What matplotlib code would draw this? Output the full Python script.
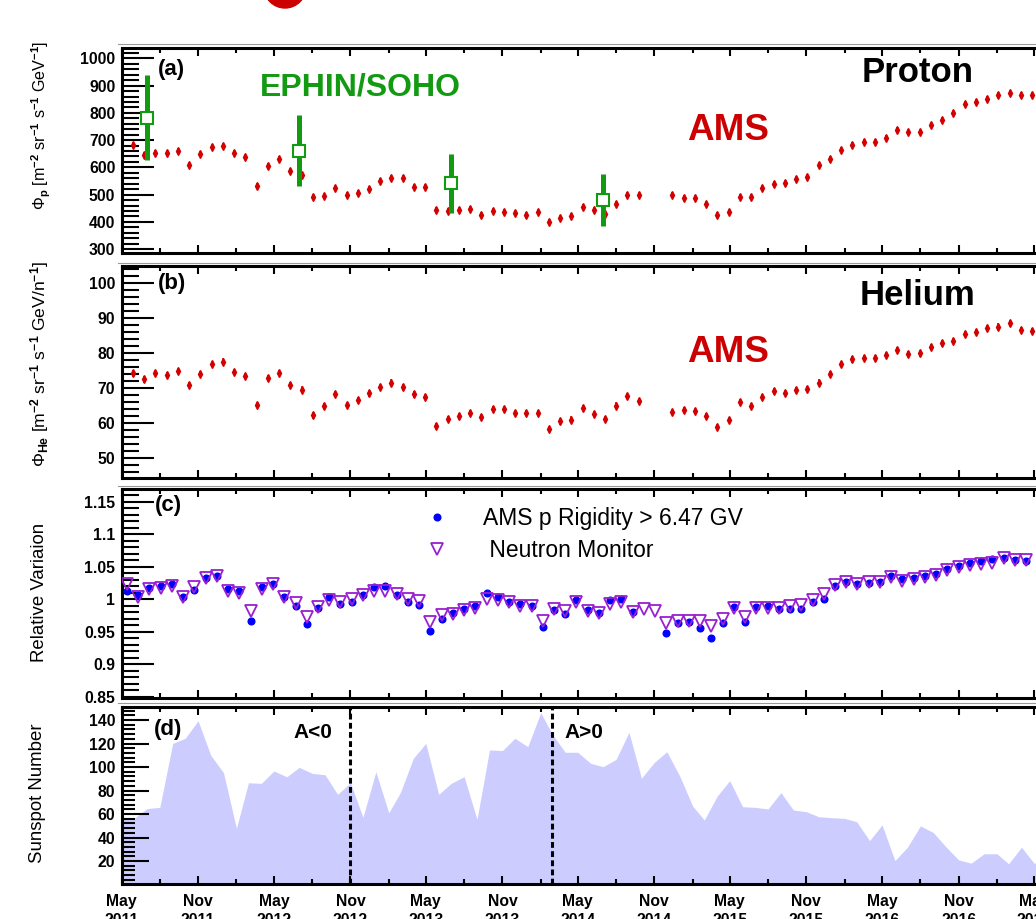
"""
AMS monthly fluxes vs. solar activity, four stacked panels:
 (a) proton flux, (b) helium flux, (c) relative variation vs neutron monitor,
 (d) monthly sunspot number.
"""
import matplotlib
matplotlib.use("Agg")
import matplotlib.pyplot as plt
import matplotlib.dates as mdates
from matplotlib.lines import Line2D
from matplotlib.patches import Ellipse
from matplotlib.ticker import MultipleLocator, FuncFormatter
import numpy as np
import pandas as pd

plt.rcParams.update({
    "font.family": "Liberation Sans",
    "font.weight": "bold",
    "mathtext.fontset": "custom",
    "mathtext.rm": "Liberation Sans",
    "mathtext.it": "Liberation Sans:italic",
    "mathtext.bf": "Liberation Sans:bold",
    "xtick.labelsize": 11.3,
    "ytick.labelsize": 11.3,
})

W, H = 1036, 919
nan = np.nan

# ── data ─────────────────────────────────────────────────────────────────────
# Bartels rotations (27 days each, rotation 1 began 8 Feb 1832)
BARTELS = np.arange(2426, 2507)

PROTON_FLUX = [
    682, 646, 654, 652, 660, 608, 649, 676, 680, 653,
    638, 533, 606, 630, 587, 573, 490, 494, 523, 498,
    507, 521, 550, 562, 562, 528, 528, 443, 439, 444,
    446, 426, 439, 438, 431, 426, 437, 401, 415, 422,
    454, 444, 429, 467, 499, 499, nan, nan, 499, 487,
    489, 464, 426, 438, 492, 492, 523, 539, 544, 556,
    566, 607, 629, 665, 682, 692, 694, 708, 738, 730,
    730, 755, 772, 801, 832, 840, 850, 866, 874, 865,
    865]
PROTON_ERR = 11

HELIUM_FLUX = [
    74.3, 72.6, 74.5, 73.9, 74.9, 70.9, 74.2, 77.0, 77.7, 74.7,
    73.6, 65.2, 73.0, 74.4, 71.0, 69.7, 62.3, 65.0, 68.4, 65.3,
    66.8, 68.6, 70.4, 71.7, 70.3, 68.3, 67.6, 59.2, 61.3, 62.0,
    62.9, 61.8, 64.1, 64.1, 63.0, 62.9, 62.9, 58.4, 60.6, 61.1,
    64.5, 62.7, 61.3, 65.1, 67.8, 66.4, nan, nan, 63.2, 63.8,
    63.5, 62.1, 58.9, 61.0, 66.2, 65.0, 67.6, 69.3, 68.8, 69.6,
    69.9, 71.7, 74.1, 76.9, 78.3, 78.7, 78.7, 79.6, 81.0, 79.9,
    80.0, 81.9, 82.9, 83.5, 85.6, 86.2, 87.2, 87.7, 88.6, 86.8,
    86.5]
HELIUM_ERR = 0.9

AMS_REL = [
    1.012, 1.006, 1.017, 1.020, 1.024, 1.004, 1.014, 1.033, 1.036, 1.016,
    1.012, 0.967, 1.018, 1.024, 1.004, 0.990, 0.962, 0.987, 1.003, 0.992,
    0.996, 1.007, 1.019, 1.020, 1.006, 0.995, 0.991, 0.951, 0.970, 0.978,
    0.985, 0.990, 1.009, 1.003, 0.995, 0.992, 0.989, 0.957, 0.983, 0.977,
    0.999, 0.984, 0.979, 0.999, 1.000, 0.981, nan, nan, 0.948, 0.963,
    0.965, 0.955, 0.941, 0.963, 0.988, 0.965, 0.988, 0.989, 0.985, 0.985,
    0.985, 0.996, 1.001, 1.021, 1.026, 1.023, 1.025, 1.026, 1.035, 1.031,
    1.032, 1.036, 1.039, 1.046, 1.051, 1.055, 1.058, 1.062, 1.063, 1.060,
    1.058]

NM_REL = [
    1.024, 1.003, 1.015, 1.017, 1.021, 1.003, 1.018, 1.033, 1.036, 1.013,
    1.010, 0.982, 1.016, 1.023, 1.004, 0.994, 0.972, 0.988, 0.999, 0.996,
    1.000, 1.007, 1.013, 1.012, 1.008, 1.001, 0.997, 0.965, 0.976, 0.977,
    0.983, 0.987, 1.001, 0.999, 0.995, 0.990, 0.990, 0.967, 0.985, 0.982,
    0.995, 0.982, 0.978, 0.993, 0.995, 0.981, 0.985, 0.982, 0.964, 0.966,
    0.966, 0.966, 0.958, 0.969, 0.986, 0.973, 0.987, 0.987, 0.987, 0.990,
    0.991, 0.999, 1.008, 1.022, 1.026, 1.024, 1.026, 1.027, 1.034, 1.028,
    1.031, 1.034, 1.037, 1.045, 1.050, 1.052, 1.054, 1.056, 1.063, 1.060,
    1.061]

EPHIN_DATES = ["2011-07-01", "2012-07-01", "2013-07-01", "2014-07-01"]
EPHIN_FLUX = [782, 661, 541, 481]
EPHIN_ERR = [156, 131, 107, 95]

# monthly sunspot number, May 2011 .. Jun 2017
SSN_START = "2011-05-01"
SUNSPOT = [
    57.2, 56.5, 64.6, 65.7, 120.1, 124.4, 139.4, 110.2,
    95.2, 47.8, 86.6, 86.1, 96.6, 91.7, 99.7, 94.6, 93.4, 76.8, 86.6, 57.2,
    96.0, 61.1, 78.3, 107.4, 120.1, 76.8, 86.1, 91.8, 55.5, 114.5, 114.0, 124.4,
    117.3, 146.2, 127.8, 112.5, 112.5, 103.1, 100.3, 106.5, 129.5, 90.4, 104.0, 113.0,
    92.3, 66.8, 54.9, 75.3, 88.4, 66.2, 65.7, 64.3, 78.2, 63.4, 62.0, 57.7,
    56.9, 56.3, 53.5, 37.4, 50.7, 20.4, 31.8, 49.9, 44.3, 32.3, 21.0, 18.2,
    26.2, 26.2, 17.7, 31.8, 18.2, 19.4]

REVERSAL_DATES = ["2012-11-01", "2014-03-01"]

RED = "#D40000"
GREEN = "#139A13"
BLUE = "#0000FF"
PURPLE = "#9A1FD0"
LAVENDER = "#CCCCFF"

# ── derived time axes ────────────────────────────────────────────────────────
br_start = pd.Timestamp("1832-02-08") + pd.to_timedelta((BARTELS - 1) * 27, unit="D")
t_mid = br_start + pd.Timedelta(days=13.5)
t_rel = br_start - pd.Timedelta(days=1)
t_ssn = pd.date_range(SSN_START, periods=len(SUNSPOT), freq="MS")
X0, X1 = pd.Timestamp("2011-05-01"), pd.Timestamp("2017-09-01")

fig = plt.figure(figsize=(W / 100, H / 100), dpi=100)

LEFT_PX, AX_W_PX = 121.5, 963.7


def add_panel(top, bottom):
    ax = fig.add_axes([LEFT_PX / W, 1 - bottom / H, AX_W_PX / W, (bottom - top) / H])
    # faint frame line just above the panel
    fig.add_artist(Line2D([118 / W, 1], [1 - (top - 3.5) / H] * 2,
                          color="#9a9a9a", lw=0.8))
    return ax


def style(ax, ylim, major, minor, ylen=23, ylen_minor=12, xlabels=False):
    ax.set_xlim(X0, X1)
    ax.set_ylim(*ylim)
    ax.xaxis.set_major_locator(mdates.MonthLocator(bymonth=[5, 11]))
    ax.xaxis.set_minor_locator(mdates.MonthLocator(bymonth=[2, 5, 8, 11]))
    ax.xaxis.set_major_formatter(mdates.DateFormatter("%b\n%Y"))
    ax.yaxis.set_major_locator(MultipleLocator(major))
    ax.yaxis.set_minor_locator(MultipleLocator(minor))
    ax.yaxis.set_major_formatter(FuncFormatter(lambda v, p: f"{v:g}"))
    ax.tick_params(axis="y", which="major", direction="in", length=ylen,
                   width=1.5, pad=4.5)
    ax.tick_params(axis="y", which="minor", direction="in", length=ylen_minor,
                   width=1.5)
    ax.tick_params(axis="x", which="both", direction="in", top=True,
                   bottom=True, width=1.5, labelbottom=xlabels, pad=7)
    ax.tick_params(axis="x", which="major", length=6)
    ax.tick_params(axis="x", which="minor", length=3.5)
    for s in ax.spines.values():
        s.set_linewidth(2.2)


def ftext(x, y, s, **kw):
    fig.text(x / W, 1 - y / H, s, **kw)


# ── (a) proton ───────────────────────────────────────────────────────────────
ax_a = add_panel(47.7, 253)
ax_a.errorbar(t_mid, PROTON_FLUX, yerr=PROTON_ERR, fmt="d", color=RED,
              ms=4.2, elinewidth=1.1, capsize=0, zorder=3)
ax_a.errorbar(pd.to_datetime(EPHIN_DATES), EPHIN_FLUX, yerr=EPHIN_ERR, fmt="s",
              color=GREEN, mfc="white", mec=GREEN, mew=1.5, ms=8,
              elinewidth=3.6, capsize=0, zorder=4)
style(ax_a, (286, 1039), 100, 20)

# ── (b) helium ───────────────────────────────────────────────────────────────
ax_b = add_panel(266, 477.7)
ax_b.errorbar(t_mid, HELIUM_FLUX, yerr=HELIUM_ERR, fmt="d", color=RED,
              ms=4.2, elinewidth=1.1, capsize=0, zorder=3)
style(ax_b, (44.5, 105), 10, 2)

# ── (c) relative variation ───────────────────────────────────────────────────
ax_c = add_panel(489, 698)
ax_c.plot(t_rel, AMS_REL, "o", color=BLUE, ms=4.8, ls="none", zorder=3)
ax_c.plot(t_rel, NM_REL, "v", mfc="none", mec=PURPLE, mew=1.3, ms=8.6,
          ls="none", zorder=4)
style(ax_c, (0.848, 1.1695), 0.05, 0.01)
h_ams = Line2D([], [], marker="o", color=BLUE, ls="none", ms=4.8)
h_nm = Line2D([], [], marker="v", mfc="none", mec=PURPLE, mew=1.3, ms=8.6,
              ls="none")
ax_c.legend([h_ams, h_nm], ["AMS p Rigidity > 6.47 GV", " Neutron Monitor"],
            loc="upper left", bbox_to_anchor=(414 / W, 1 - 507 / H),
            bbox_transform=fig.transFigure, frameon=False,
            prop={"size": 16.5, "weight": "normal"}, handlelength=2.0,
            handletextpad=1.0, labelspacing=0.38, borderpad=0,
            borderaxespad=0)

# ── (d) sunspot number ───────────────────────────────────────────────────────
ax_d = add_panel(706.7, 884)
ax_d.fill_between(t_ssn, 0, SUNSPOT, color=LAVENDER, lw=0, zorder=1)
for d in REVERSAL_DATES:
    ax_d.axvline(pd.Timestamp(d), color="black", lw=2.2, ls=(0, (1.9, 1.1)),
                 zorder=3)
style(ax_d, (0.5, 151.3), 20, 4, ylen=19.5, ylen_minor=9.5, xlabels=True)
for lab in ax_d.get_xticklabels():
    lab.set_linespacing(1.35)

# ── annotations ──────────────────────────────────────────────────────────────
ftext(158, 70, "(a)", fontsize=16, va="center")
ftext(158, 284, "(b)", fontsize=16, va="center")
ftext(155, 505, "(c)", fontsize=16, va="center")
ftext(154, 729, "(d)", fontsize=16, va="center")

ftext(360, 95, "EPHIN/SOHO", fontsize=23, color=GREEN, ha="center", va="baseline")
ftext(728, 140, "AMS", fontsize=26.6, color="#CC0000", ha="center", va="baseline")
ftext(918, 81.7, "Proton", fontsize=25, ha="center", va="baseline")
ftext(918, 305, "Helium", fontsize=25, ha="center", va="baseline")
ftext(728, 361.7, "AMS", fontsize=26.6, color="#CC0000", ha="center", va="baseline")
ftext(332, 738.3, "A<0", fontsize=15, ha="right", va="baseline")
ftext(564, 738.3, "A>0", fontsize=15, ha="left", va="baseline")

ylab = dict(rotation=90, ha="center", va="center", fontweight="normal")
ftext(41, 125, "Φ$_{\\rm p}$ [m$^{-2}$ sr$^{-1}$ s$^{-1}$ GeV$^{-1}$]",
      fontsize=11.6, **ylab)
ftext(40, 364, "Φ$_{\\rm He}$ [m$^{-2}$ sr$^{-1}$ s$^{-1}$ GeV/n$^{-1}$]",
      fontsize=12.6, **ylab)
ftext(40, 592, "Relative Variaion", fontsize=13.4, **ylab)
ftext(38, 793, "Sunspot Number", fontsize=13.4, **ylab)

# cropped logo edge at the top
fig.add_artist(Ellipse((285 / W, 1 + 13 / H), 42 / W, 42 / H,
                       transform=fig.transFigure, color="#CC0000"))

fig.savefig("out.png", dpi=100)
plt.close(fig)
print("Saved: out.png")
